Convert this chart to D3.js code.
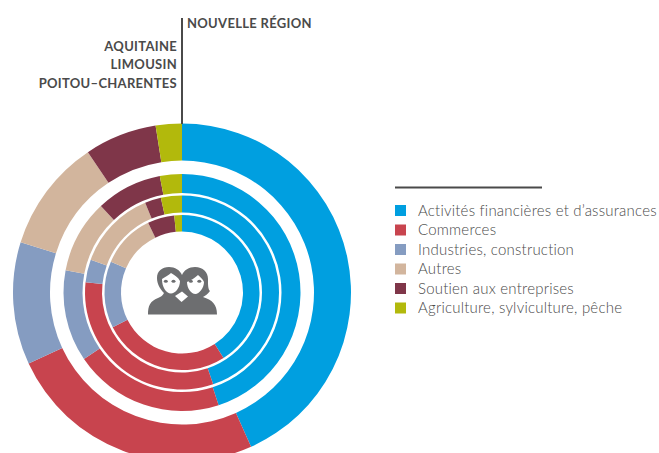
<!DOCTYPE html>
<html>
<head>
<meta charset="utf-8">
<script src="https://cdn.jsdelivr.net/npm/d3@7"></script>
<style>
  html, body { margin: 0; padding: 0; background: #fff; overflow: hidden; }
  svg { display: block; }
  text { font-family: Lato, "Open Sans", sans-serif; fill: #4a4a4a; }
</style>
</head>
<body>
<div class="chart"></div>
<script>
const categories = ['Activités financières et d’assurances', 'Commerces', 'Industries, construction', 'Autres', 'Soutien aux entreprises', 'Agriculture, sylviculture, pêche']
const colors = ['#009fe0', '#c8444e', '#859cc1', '#d2b59d', '#7f3649', '#b2b90c']

// share of each category in %
const nouvelleRegion = [43.3, 24.8, 11.7, 10.8, 6.9, 2.5]
const aquitaine = [45, 20.5, 12.5, 10, 9, 3]
const limousin = [44.8, 31.9, 3.8, 13.3, 2.7, 3.5]
const poitouCharentes = [41, 26.6, 13.9, 11.3, 5.6, 1.6]

const labelsLeft = ['AQUITAINE', 'LIMOUSIN', 'POITOU–CHARENTES']
const labelRight = 'NOUVELLE RÉGION'

const w = 659,
      h = 453,
      cx = 182,
      cy = 292.5

const rings = [
  { values: nouvelleRegion, inner: 132, outer: 169 },
  { values: aquitaine, inner: 99.5, outer: 118.5 },
  { values: limousin, inner: 80, outer: 97 },
  { values: poitouCharentes, inner: 61, outer: 77.5 }
]

const svg = d3.select('.chart')
              .append('svg')
              .attr('width', w)
              .attr('height', h)

const pie = d3.pie().sort(null)
const arc = d3.arc()
const chart = svg.append('g').attr('transform', `translate(${cx},${cy})`)

rings.forEach((ring) => {
  chart.append('g')
       .selectAll('path')
       .data(pie(ring.values))
       .enter()
       .append('path')
       .attr('d', (d) => arc({ ...d, innerRadius: ring.inner, outerRadius: ring.outer }))
       .attr('fill', (d, i) => colors[i])
})

// region labels and the line that marks the start of the rings
svg.append('line')
   .attr('x1', cx).attr('x2', cx)
   .attr('y1', 18).attr('y2', 124)
   .attr('stroke', '#4a4a4a')
   .attr('stroke-width', 2)

svg.append('text')
   .text(labelRight)
   .attr('x', 187)
   .attr('y', 27.5)
   .attr('font-size', 13)
   .attr('font-weight', 700)
   .attr('letter-spacing', 0.3)

svg.selectAll('.regionLabel')
   .data(labelsLeft)
   .enter()
   .append('text')
   .attr('class', 'regionLabel')
   .text((d) => d)
   .attr('x', 177)
   .attr('y', (d, i) => 50.5 + i * 18.5)
   .attr('text-anchor', 'end')
   .attr('font-size', 13)
   .attr('font-weight', 700)
   .attr('letter-spacing', 0.3)

// legend
const legend = svg.append('g').attr('id', 'legend')

legend.append('line')
      .attr('x1', 395).attr('x2', 542)
      .attr('y1', 187.5).attr('y2', 187.5)
      .attr('stroke', '#4a4a4a')
      .attr('stroke-width', 2)

const rows = legend.selectAll('g')
                   .data(categories)
                   .enter()
                   .append('g')
                   .attr('transform', (d, i) => `translate(395,${205 + i * 19.5})`)

rows.append('rect')
    .attr('width', 11)
    .attr('height', 11)
    .attr('fill', (d, i) => colors[i])

rows.append('text')
    .text((d) => d)
    .attr('x', 23)
    .attr('y', 10.5)
    .attr('font-size', 15)
    .attr('font-weight', 300)
    .attr('letter-spacing', 0.21)

// two women icon in the middle
const icon = svg.append('g').attr('fill', '#6d6e70')

icon.append('path')
    .attr('d', 'M148 314.5 C148 306 150 301 158 298 C161 297 163 295 164 293 C160 289 157 284 157 278 C157 271 162 267 169 267 C175 267 180 270 182 275 C184 270 189 267 195 267 C203 267 208 272 208 279 C208 285 208 289 210 291 C208 294 205 296 203 297 C212 300 217 304 217 314.5 Z')

const faces = svg.append('g').attr('fill', '#fff')

faces.append('path')
     .attr('d', 'M162 279 C165 277 169 275 171 273 C174 275 178 277 180 281 C180 288 175 293.5 171 293.5 C166 293.5 162 287 162 279 Z')

faces.append('path')
     .attr('d', 'M187 282 C191 280 195 278 198 275 C200 277 203 279 204 282 C204 288 199 294 195.5 294 C191 294 187 288 187 282 Z')

// gap between the two collars
faces.append('path')
     .attr('d', 'M175 296 L181.5 302 L188 296.5 L182 291.5 Z')

const eyes = svg.append('g').attr('fill', '#6d6e70')

;[[165.8, 281.2], [173.5, 281.2], [190.8, 281.2], [199.3, 281.2]].forEach((e) => {
  eyes.append('ellipse')
      .attr('cx', e[0])
      .attr('cy', e[1])
      .attr('rx', 2)
      .attr('ry', 1.5)
})
</script>
</body>
</html>
